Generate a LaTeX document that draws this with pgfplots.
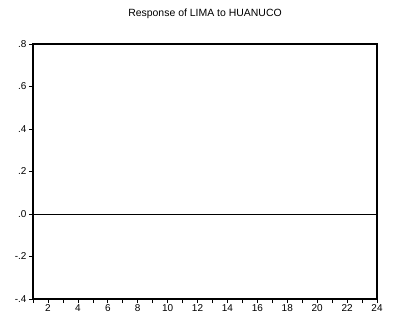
\documentclass[border=0pt]{standalone}
\usepackage{pgfplots}
\pgfplotsset{compat=1.18}
\usepackage{fontspec}
\setmainfont{Liberation Sans}
\begin{document}
\begin{tikzpicture}[x=1bp,y=1bp]
\useasboundingbox (0,0) rectangle (401,326);
\begin{axis}[
  at={(33bp,27bp)}, anchor=south west,
  width=344bp, height=255bp, scale only axis,
  xmin=1, xmax=24, ymin=-0.4, ymax=0.8,
  xtick={2,4,...,24}, minor xtick={1,3,...,23},
  ytick={-0.4,-0.2,0,0.2,0.4,0.6,0.8},
  yticklabels={-.4,-.2,.0,.2,.4,.6,.8},
  tick align=outside, xtick pos=bottom, ytick pos=left,
  major tick length=4bp, minor tick length=4bp,
  tick style={black, line width=0.6pt},
  axis line style={black, line width=1.1pt},
  ticklabel style={font=\fontsize{10}{12}\selectfont},
  /pgf/number format/assume math mode=true,
  xticklabel style={yshift=2bp},
  yticklabel style={xshift=1bp},
  title={Response of LIMA to HUANUCO},
  title style={font=\fontsize{10.5}{12}\selectfont, at={(0.5,1)}, yshift=16bp, anchor=south},
]
\addplot[black, line width=0.9pt] coordinates {(1,0) (24,0)};
\end{axis}
\end{tikzpicture}
\end{document}
